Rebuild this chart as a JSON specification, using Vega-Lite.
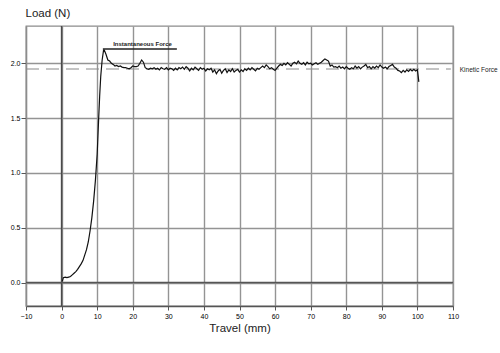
{
  "$schema": "https://vega.github.io/schema/vega-lite/v6.json",
  "width": 427,
  "height": 280,
  "autosize": "none",
  "padding": {"left": 26, "top": 26, "right": 47, "bottom": 47},
  "background": "white",
  "config": {
    "view": {"stroke": "#8c8c8c", "strokeWidth": 1.3},
    "font": "Liberation Sans",
    "axis": {
      "labelFont": "Liberation Sans",
      "labelFontSize": 7,
      "labelColor": "#000",
      "labelOverlap": false,
      "titleFont": "Liberation Sans",
      "titleFontWeight": "normal",
      "titleColor": "#222",
      "gridColor": "#949494",
      "gridWidth": 1.4,
      "gridOpacity": 1
    }
  },
  "datasets": {
    "curve": [
      {"t": 0.2, "load": 0.01}, {"t": 0.5, "load": 0.045}, {"t": 1.0, "load": 0.05}, {"t": 1.5, "load": 0.045},
      {"t": 2.0, "load": 0.05}, {"t": 2.5, "load": 0.055}, {"t": 3.0, "load": 0.07}, {"t": 3.5, "load": 0.085},
      {"t": 4.0, "load": 0.10}, {"t": 4.5, "load": 0.12}, {"t": 5.0, "load": 0.145}, {"t": 5.5, "load": 0.17},
      {"t": 6.0, "load": 0.20}, {"t": 6.5, "load": 0.25}, {"t": 7.0, "load": 0.30}, {"t": 7.5, "load": 0.37},
      {"t": 8.0, "load": 0.47}, {"t": 8.5, "load": 0.59}, {"t": 9.0, "load": 0.74}, {"t": 9.5, "load": 0.93},
      {"t": 10.0, "load": 1.17}, {"t": 10.4, "load": 1.48}, {"t": 10.7, "load": 1.70}, {"t": 11.0, "load": 1.88},
      {"t": 11.4, "load": 2.03}, {"t": 11.8, "load": 2.12}, {"t": 12.0, "load": 2.12}, {"t": 12.5, "load": 2.08},
      {"t": 13.0, "load": 2.03}, {"t": 13.5, "load": 2.02}, {"t": 14.0, "load": 2.0}, {"t": 14.5, "load": 1.99},
      {"t": 15.0, "load": 1.975}, {"t": 15.5, "load": 1.98}, {"t": 16.0, "load": 1.97}, {"t": 16.5, "load": 1.975},
      {"t": 17.0, "load": 1.965}, {"t": 17.5, "load": 1.96}, {"t": 18.0, "load": 1.96}, {"t": 18.5, "load": 1.955},
      {"t": 19.0, "load": 1.95}, {"t": 19.5, "load": 1.96}, {"t": 20.0, "load": 1.975}, {"t": 20.5, "load": 1.97},
      {"t": 21.0, "load": 1.97}, {"t": 21.5, "load": 1.975}, {"t": 22.0, "load": 2.0}, {"t": 22.5, "load": 2.03},
      {"t": 23.0, "load": 2.01}, {"t": 23.5, "load": 1.96}, {"t": 24.0, "load": 1.95}, {"t": 24.5, "load": 1.945},
      {"t": 25.0, "load": 1.955}, {"t": 25.5, "load": 1.95}, {"t": 26.0, "load": 1.96}, {"t": 26.5, "load": 1.945},
      {"t": 27.0, "load": 1.955}, {"t": 27.5, "load": 1.94}, {"t": 28.0, "load": 1.96}, {"t": 28.5, "load": 1.95},
      {"t": 29.0, "load": 1.945}, {"t": 29.5, "load": 1.96}, {"t": 30.0, "load": 1.94}, {"t": 30.5, "load": 1.955},
      {"t": 31.0, "load": 1.95}, {"t": 31.5, "load": 1.935}, {"t": 32.0, "load": 1.955}, {"t": 32.5, "load": 1.94},
      {"t": 33.0, "load": 1.96}, {"t": 33.5, "load": 1.95}, {"t": 34.0, "load": 1.965}, {"t": 34.5, "load": 1.945},
      {"t": 35.0, "load": 1.97}, {"t": 35.5, "load": 1.955}, {"t": 36.0, "load": 1.93}, {"t": 36.5, "load": 1.955},
      {"t": 37.0, "load": 1.94}, {"t": 37.5, "load": 1.965}, {"t": 38.0, "load": 1.95}, {"t": 38.5, "load": 1.935},
      {"t": 39.0, "load": 1.96}, {"t": 39.5, "load": 1.945}, {"t": 40.0, "load": 1.955}, {"t": 40.5, "load": 1.93},
      {"t": 41.0, "load": 1.95}, {"t": 41.5, "load": 1.94}, {"t": 42.0, "load": 1.955}, {"t": 42.5, "load": 1.92},
      {"t": 43.0, "load": 1.94}, {"t": 43.5, "load": 1.905}, {"t": 44.0, "load": 1.93}, {"t": 44.5, "load": 1.945},
      {"t": 45.0, "load": 1.91}, {"t": 45.5, "load": 1.935}, {"t": 46.0, "load": 1.95}, {"t": 46.5, "load": 1.915},
      {"t": 47.0, "load": 1.94}, {"t": 47.5, "load": 1.925}, {"t": 48.0, "load": 1.95}, {"t": 48.5, "load": 1.92},
      {"t": 49.0, "load": 1.935}, {"t": 49.5, "load": 1.945}, {"t": 50.0, "load": 1.92}, {"t": 50.5, "load": 1.94},
      {"t": 51.0, "load": 1.925}, {"t": 51.5, "load": 1.95}, {"t": 52.0, "load": 1.935}, {"t": 52.5, "load": 1.955},
      {"t": 53.0, "load": 1.94}, {"t": 53.5, "load": 1.96}, {"t": 54.0, "load": 1.945}, {"t": 54.5, "load": 1.93},
      {"t": 55.0, "load": 1.955}, {"t": 55.5, "load": 1.945}, {"t": 56.0, "load": 1.96}, {"t": 56.5, "load": 1.975},
      {"t": 57.0, "load": 1.96}, {"t": 57.5, "load": 1.985}, {"t": 58.0, "load": 1.97}, {"t": 58.5, "load": 1.95},
      {"t": 59.0, "load": 1.96}, {"t": 59.5, "load": 1.945}, {"t": 60.0, "load": 1.935}, {"t": 60.5, "load": 1.955},
      {"t": 61.0, "load": 1.975}, {"t": 61.5, "load": 1.99}, {"t": 62.0, "load": 1.98}, {"t": 62.5, "load": 2.0},
      {"t": 63.0, "load": 1.985}, {"t": 63.5, "load": 2.005}, {"t": 64.0, "load": 1.99}, {"t": 64.5, "load": 1.975},
      {"t": 65.0, "load": 2.0}, {"t": 65.5, "load": 2.01}, {"t": 66.0, "load": 1.995}, {"t": 66.5, "load": 2.02},
      {"t": 67.0, "load": 2.0}, {"t": 67.5, "load": 1.99}, {"t": 68.0, "load": 2.005}, {"t": 68.5, "load": 1.985},
      {"t": 69.0, "load": 2.01}, {"t": 69.5, "load": 1.995}, {"t": 70.0, "load": 2.0}, {"t": 70.5, "load": 1.985},
      {"t": 71.0, "load": 1.995}, {"t": 71.5, "load": 2.005}, {"t": 72.0, "load": 1.99}, {"t": 72.5, "load": 2.0},
      {"t": 73.0, "load": 2.01}, {"t": 73.5, "load": 2.025}, {"t": 74.0, "load": 2.04}, {"t": 74.5, "load": 2.03},
      {"t": 75.0, "load": 2.02}, {"t": 75.5, "load": 1.975}, {"t": 76.0, "load": 1.985}, {"t": 76.5, "load": 1.965},
      {"t": 77.0, "load": 1.97}, {"t": 77.5, "load": 1.96}, {"t": 78.0, "load": 1.975}, {"t": 78.5, "load": 1.955},
      {"t": 79.0, "load": 1.965}, {"t": 79.5, "load": 1.95}, {"t": 80.0, "load": 1.97}, {"t": 80.5, "load": 1.955},
      {"t": 81.0, "load": 1.945}, {"t": 81.5, "load": 1.96}, {"t": 82.0, "load": 1.95}, {"t": 82.5, "load": 1.975},
      {"t": 83.0, "load": 1.955}, {"t": 83.5, "load": 1.97}, {"t": 84.0, "load": 1.95}, {"t": 84.5, "load": 1.965},
      {"t": 85.0, "load": 1.975}, {"t": 85.5, "load": 1.99}, {"t": 86.0, "load": 1.96}, {"t": 86.5, "load": 1.97},
      {"t": 87.0, "load": 1.95}, {"t": 87.5, "load": 1.97}, {"t": 88.0, "load": 1.955}, {"t": 88.5, "load": 1.975},
      {"t": 89.0, "load": 1.96}, {"t": 89.5, "load": 1.985}, {"t": 90.0, "load": 1.965}, {"t": 90.5, "load": 1.955},
      {"t": 91.0, "load": 1.965}, {"t": 91.5, "load": 1.95}, {"t": 92.0, "load": 1.97}, {"t": 92.5, "load": 1.98},
      {"t": 93.0, "load": 1.99}, {"t": 93.5, "load": 1.965}, {"t": 94.0, "load": 1.955}, {"t": 94.5, "load": 1.935},
      {"t": 95.0, "load": 1.93}, {"t": 95.5, "load": 1.915}, {"t": 96.0, "load": 1.935}, {"t": 96.5, "load": 1.92},
      {"t": 97.0, "load": 1.94}, {"t": 97.5, "load": 1.925}, {"t": 98.0, "load": 1.945}, {"t": 98.5, "load": 1.93},
      {"t": 99.0, "load": 1.945}, {"t": 99.5, "load": 1.93}, {"t": 100.0, "load": 1.94}, {"t": 100.4, "load": 1.83}
    ],
    "refs": [
      {"name": "Kinetic Force", "x1": -10, "x2": 109.4, "y": 1.948, "lx": 111.9, "ly": 1.935},
      {"name": "Instantaneous Force", "x1": 11.6, "x2": 32.4, "y": 2.13, "lx": 14.5, "ly": 2.155}
    ],
    "zeros": [{"v": 0}]
  },
  "layer": [
    {
      "data": {"name": "zeros"},
      "mark": {"type": "rule", "color": "#4a4a4a", "strokeWidth": 1.5},
      "encoding": {
        "x": {"field": "v", "type": "quantitative",
          "scale": {"domain": [-10, 110], "nice": false, "zero": false},
          "axis": {"tickCount": 12, "title": "Travel (mm)",
            "titleFontSize": 11.5, "titleBaseline": "alphabetic", "titleY": 25, "labelOverlap": false,
            "domainColor": "#555", "domainWidth": 1.5, "tickColor": "#555", "tickSize": 4, "labelPadding": 2,
            "labelFlush": false}}
      }
    },
    {
      "data": {"name": "zeros"},
      "mark": {"type": "rule", "color": "#555", "strokeWidth": 1.5},
      "encoding": {
        "y": {"field": "v", "type": "quantitative",
          "scale": {"domain": [-0.214, 2.34], "nice": false, "zero": false},
          "axis": {"values": [0, 0.5, 1, 1.5, 2], "format": ".1f", "title": "Load (N)", "labelOverlap": false,
            "titleAngle": 0, "titleAlign": "left", "titleBaseline": "alphabetic", "titleFontSize": 11.5,
            "titleX": -1, "titleY": -10, "domainColor": "#8c8c8c", "domainWidth": 1.3,
            "tickColor": "#555", "tickSize": 5, "labelPadding": 1, "labelFlush": false}}
      }
    },
    {
      "data": {"name": "refs"},
      "transform": [{"filter": "datum.name == 'Kinetic Force'"}],
      "mark": {"type": "rule", "color": "#8a8a8a", "strokeWidth": 1.2, "strokeDash": [13, 7]},
      "encoding": {
        "x": {"field": "x1", "type": "quantitative"},
        "x2": {"field": "x2"},
        "y": {"field": "y", "type": "quantitative"}
      }
    },
    {
      "data": {"name": "refs"},
      "transform": [{"filter": "datum.name == 'Instantaneous Force'"}],
      "mark": {"type": "rule", "color": "#222", "strokeWidth": 1.3},
      "encoding": {
        "x": {"field": "x1", "type": "quantitative"},
        "x2": {"field": "x2"},
        "y": {"field": "y", "type": "quantitative"}
      }
    },
    {
      "data": {"name": "curve"},
      "mark": {"type": "line", "color": "#111", "strokeWidth": 1.2},
      "encoding": {
        "x": {"field": "t", "type": "quantitative"},
        "y": {"field": "load", "type": "quantitative"}
      }
    },
    {
      "data": {"name": "refs"},
      "transform": [{"filter": "datum.name == 'Instantaneous Force'"}],
      "mark": {"type": "text", "align": "left", "baseline": "alphabetic", "fontSize": 6, "fontWeight": "bold", "color": "#222"},
      "encoding": {
        "x": {"field": "lx", "type": "quantitative"},
        "y": {"field": "ly", "type": "quantitative"},
        "text": {"field": "name"}
      }
    },
    {
      "data": {"name": "refs"},
      "transform": [{"filter": "datum.name == 'Kinetic Force'"}],
      "mark": {"type": "text", "align": "left", "baseline": "middle", "fontSize": 6.5, "color": "#222"},
      "encoding": {
        "x": {"field": "lx", "type": "quantitative"},
        "y": {"field": "ly", "type": "quantitative"},
        "text": {"field": "name"}
      }
    }
  ]
}
